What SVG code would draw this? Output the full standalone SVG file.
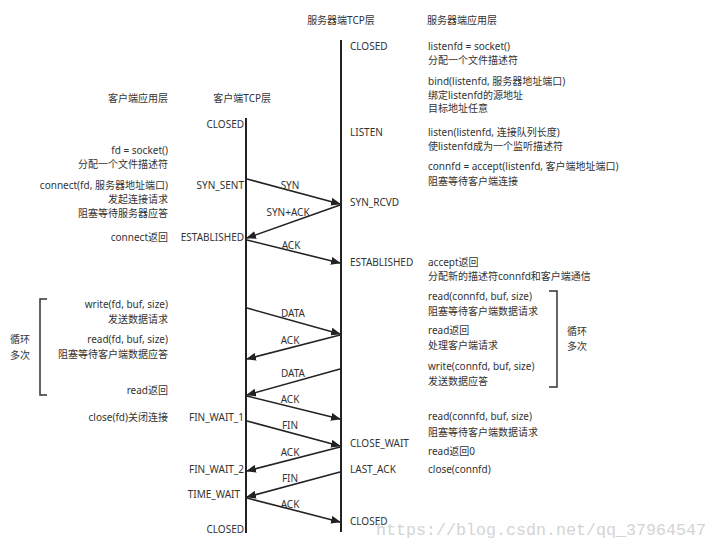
<svg xmlns="http://www.w3.org/2000/svg" width="717" height="548" viewBox="0 0 717 548">
<style>
text{font-family:"Noto Sans","Noto Sans CJK SC",sans-serif;font-size:10px;fill:#333}
.r{text-anchor:end}
.tl{stroke:#222;stroke-width:2}
.msg{stroke:#222;stroke-width:1.6;fill:none;marker-end:url(#ah)}
.br{stroke:#333;stroke-width:1.5;fill:none}
.lbl{text-anchor:middle}
.wm{font-family:"Liberation Mono",monospace;font-size:17px;fill:#d4d4d4}
</style>
<defs>
<marker id="ah" markerWidth="10" markerHeight="8" refX="9" refY="4" orient="auto" markerUnits="userSpaceOnUse">
<path d="M0,0 L10,4 L0,8 Z" fill="#222"/>
</marker>
</defs>
<rect width="717" height="548" fill="#fff"/>

<g id="headers">
<text x="341" y="24" class="lbl">服务器端TCP层</text>
<text x="427" y="24">服务器端应用层</text>
<text x="168" y="102" class="r">客户端应用层</text>
<text x="271" y="102" class="r">客户端TCP层</text>
</g>

<g id="timelines">
<line id="client-line" class="tl" x1="246" y1="118" x2="246" y2="533"/>
<line id="server-line" class="tl" x1="341" y1="40" x2="341" y2="532"/>
</g>

<g id="server-states">
<text x="350" y="50">CLOSED</text>
<text x="350" y="136">LISTEN</text>
<text x="350" y="206">SYN_RCVD</text>
<text x="350" y="266">ESTABLISHED</text>
<text x="350" y="447">CLOSE_WAIT</text>
<text x="350" y="473">LAST_ACK</text>
<text x="350" y="525">CLOSED</text>
</g>

<g id="server-app">
<text x="428" y="50">listenfd = socket()</text>
<text x="428" y="64">分配一个文件描述符</text>
<text x="428" y="85">bind(listenfd, 服务器地址端口)</text>
<text x="428" y="99">绑定listenfd的源地址</text>
<text x="428" y="112">目标地址任意</text>
<text x="428" y="136">listen(listenfd, 连接队列长度)</text>
<text x="428" y="150">使listenfd成为一个监听描述符</text>
<text x="428" y="170">connfd = accept(listenfd, 客户端地址端口)</text>
<text x="428" y="185">阻塞等待客户端连接</text>
<text x="428" y="266">accept返回</text>
<text x="428" y="280">分配新的描述符connfd和客户端通信</text>
<text x="428" y="300">read(connfd, buf, size)</text>
<text x="428" y="315">阻塞等待客户端数据请求</text>
<text x="428" y="334">read返回</text>
<text x="428" y="349">处理客户端请求</text>
<text x="428" y="370">write(connfd, buf, size)</text>
<text x="428" y="385">发送数据应答</text>
<text x="428" y="420">read(connfd, buf, size)</text>
<text x="428" y="436">阻塞等待客户端数据请求</text>
<text x="428" y="455">read返回0</text>
<text x="428" y="473">close(connfd)</text>
</g>

<g id="server-loop">
<path class="br" d="M549,291 H557 V387 H549"/>
<text x="567" y="335">循环</text>
<text x="567" y="350">多次</text>
</g>

<g id="client-states">
<text x="244" y="128" class="r">CLOSED</text>
<text x="244" y="189" class="r">SYN_SENT</text>
<text x="244" y="241" class="r">ESTABLISHED</text>
<text x="244" y="421" class="r">FIN_WAIT_1</text>
<text x="244" y="473" class="r">FIN_WAIT_2</text>
<text x="240" y="498" class="r">TIME_WAIT</text>
<text x="244" y="533" class="r">CLOSED</text>
</g>

<g id="client-app">
<text x="168" y="154" class="r">fd = socket()</text>
<text x="168" y="168" class="r">分配一个文件描述符</text>
<text x="168" y="189" class="r">connect(fd, 服务器地址端口)</text>
<text x="168" y="203" class="r">发起连接请求</text>
<text x="168" y="217" class="r">阻塞等待服务器应答</text>
<text x="168" y="241" class="r">connect返回</text>
<text x="168" y="308" class="r">write(fd, buf, size)</text>
<text x="168" y="323" class="r">发送数据请求</text>
<text x="168" y="343" class="r">read(fd, buf, size)</text>
<text x="168" y="358" class="r">阻塞等待客户端数据应答</text>
<text x="168" y="394" class="r">read返回</text>
<text x="168" y="421" class="r">close(fd)关闭连接</text>
</g>

<g id="client-loop">
<path class="br" d="M47,299 H40 V395 H47"/>
<text x="10" y="343">循环</text>
<text x="10" y="359">多次</text>
</g>

<g id="connectors">
<line class="msg" x1="247" y1="179" x2="340" y2="204"/>
<line class="msg" x1="340" y1="205" x2="247" y2="238"/>
<line class="msg" x1="247" y1="240" x2="340" y2="263"/>
<line class="msg" x1="247" y1="308" x2="340" y2="334"/>
<line class="msg" x1="340" y1="335" x2="247" y2="359"/>
<line class="msg" x1="340" y1="369" x2="247" y2="395"/>
<line class="msg" x1="247" y1="396" x2="340" y2="419"/>
<line class="msg" x1="247" y1="421" x2="340" y2="446"/>
<line class="msg" x1="340" y1="447" x2="247" y2="471"/>
<line class="msg" x1="340" y1="472" x2="247" y2="497"/>
<line class="msg" x1="247" y1="498" x2="340" y2="522"/>
<text class="lbl" x="290" y="189">SYN</text>
<text class="lbl" x="288" y="216">SYN+ACK</text>
<text class="lbl" x="291" y="249">ACK</text>
<text class="lbl" x="293" y="317">DATA</text>
<text class="lbl" x="290" y="344">ACK</text>
<text class="lbl" x="293" y="377">DATA</text>
<text class="lbl" x="290" y="403">ACK</text>
<text class="lbl" x="290" y="429">FIN</text>
<text class="lbl" x="290" y="456">ACK</text>
<text class="lbl" x="290" y="482">FIN</text>
<text class="lbl" x="290" y="508">ACK</text>
</g>

<text class="wm" x="376" y="535" textLength="330" lengthAdjust="spacingAndGlyphs">https://blog.csdn.net/qq_37964547</text>
</svg>
